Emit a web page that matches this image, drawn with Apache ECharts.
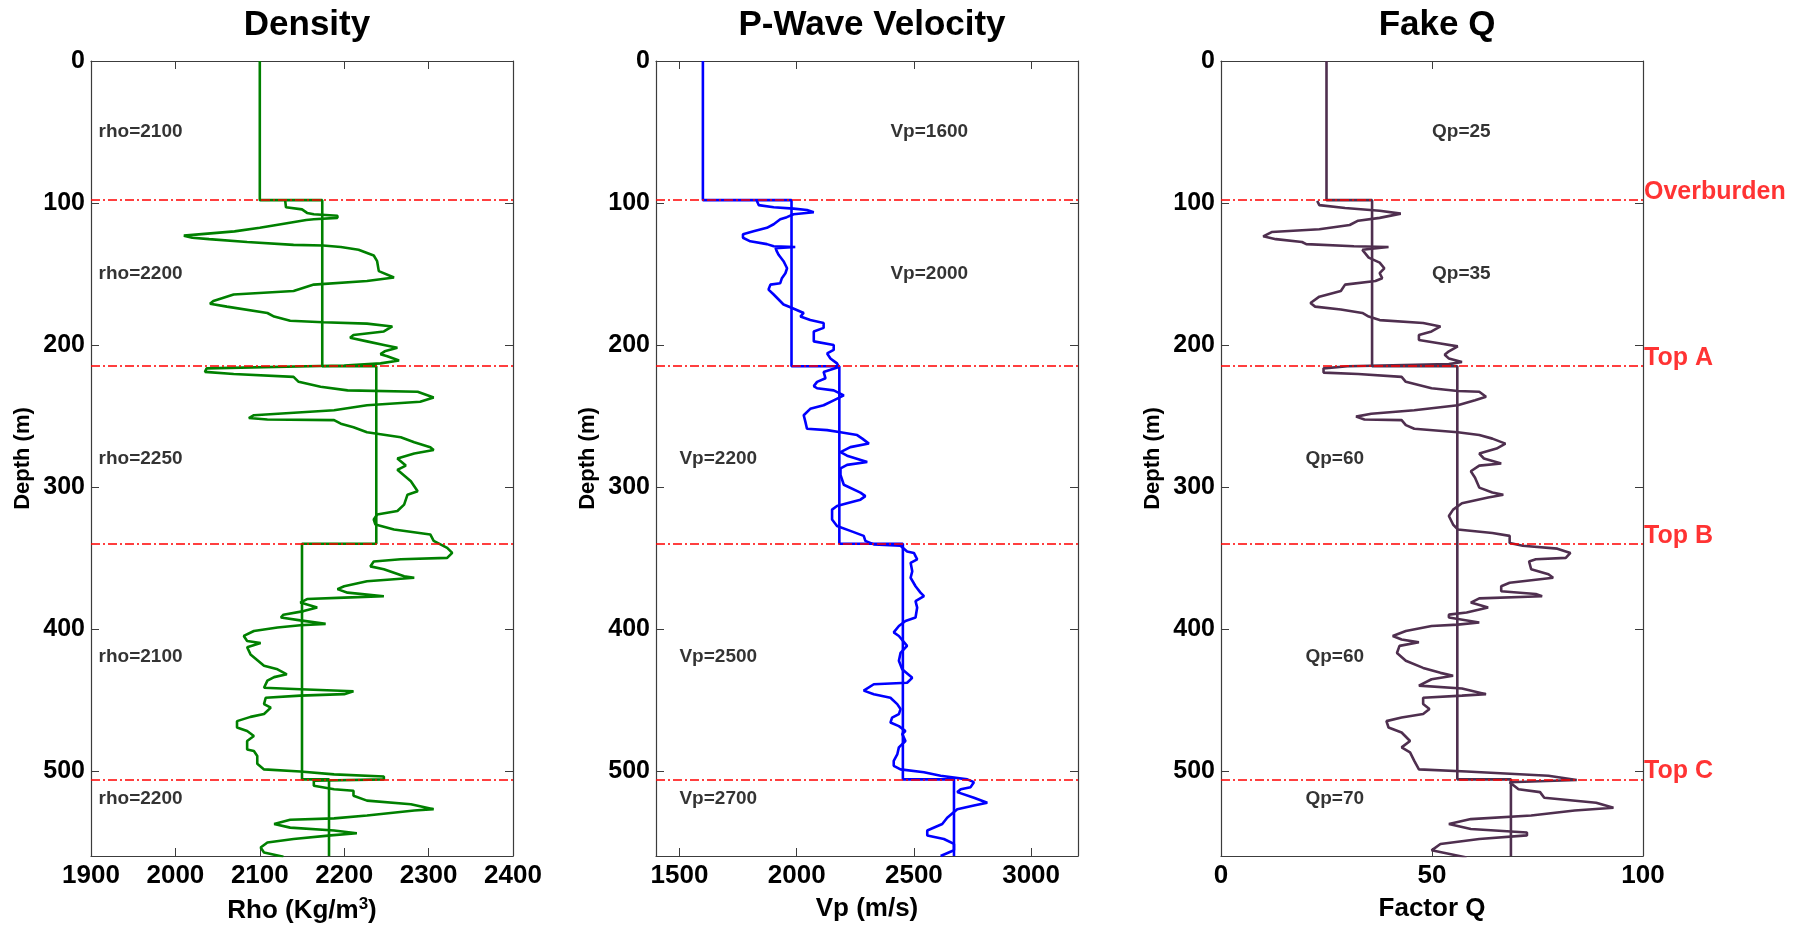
<!DOCTYPE html>
<html>
<head>
<meta charset="utf-8">
<script src="https://cdn.jsdelivr.net/npm/echarts@6/dist/echarts.min.js"></script>
<style>
  html, body { margin: 0; padding: 0; background: #ffffff; }
  #chart { width: 1797px; height: 931px; }
</style>
</head>
<body>
<div id="chart"></div>
<script>
// ---- depth axis and formation tops ----
const depthMax = 560;
const depthTicks = [0, 100, 200, 300, 400, 500];
const horizons = [98, 215, 340, 506];
const horizonNames = ['Overburden', 'Top A', 'Top B', 'Top C'];
const noteDepths = [50, 150, 280, 420, 520];

// ---- density ----
const rhoTicks = [1900, 2000, 2100, 2200, 2300, 2400];
const rhoLayers = [2100, 2174, 2238, 2150, 2182];
const rhoNotes = ['rho=2100', 'rho=2200', 'rho=2250', 'rho=2100', 'rho=2200'];
const rhoLog = [
  [2130,98],[2131,103],[2150,104.5],[2156,107],[2164,108],[2192,109],[2192,110.5],[2164,111.5],[2155,112],
  [2125,115],[2100,117.5],[2070,120],[2010,123],[2020,124.5],[2040,125.5],[2085,127.5],[2140,129.5],[2175,130],
  [2196,131],[2217,133],[2235,137],[2239,141],[2241,148],[2259,152.5],[2227,155],[2164,157.5],[2140,162],
  [2069,164.5],[2045,169],[2041,171],[2061,173],[2109,177.5],[2117,180],[2136,183],[2175,184],[2227,185],
  [2257,187],[2247,190.5],[2211,193],[2207,195],[2227,197.5],[2247,200],[2263,202],[2248,204.5],[2243,206.5],
  [2251,208],[2265,211],[2243,213],[2200,214.5],[2037,216.5],[2035,219],[2069,220.5],[2140,222.5],[2146,226],
  [2172,229.5],[2204,232],[2287,233],[2306,237],[2290,240],[2227,242.5],[2188,246],[2093,249.5],[2087,251.5],
  [2109,252.5],[2188,253],[2196,255.5],[2211,258],[2227,261.5],[2267,265],[2283,268.5],[2302,272],[2306,274],
  [2283,276.5],[2263,280],[2273,285],[2263,288],[2271,292],[2279,296],[2287,303],[2275,305.5],[2271,312.5],
  [2263,317],[2239,319.5],[2235,323],[2237,326.5],[2259,330],[2302,333.5],[2306,338],[2322,343],[2328,346.5],
  [2322,350],[2267,351],[2235,352.5],[2231,356],[2247,358],[2271,363],[2283,364],[2227,366.5],[2200,370],
  [2192,372],[2204,374.5],[2247,377],[2200,378],[2156,379],[2148,381.5],[2168,385],[2152,387.5],[2128,390],
  [2125,392],[2148,394],[2178,396.5],[2148,397.5],[2121,399],[2093,401.5],[2081,405],[2085,408.5],[2101,410],
  [2085,413],[2089,418],[2105,426],[2121,428.5],[2132,432],[2117,434],[2109,436.5],[2105,441.5],[2148,442.5],
  [2211,444],[2200,446],[2148,447],[2107,448.5],[2105,453],[2113,455.5],[2105,460],[2089,462],[2073,465],
  [2073,469.5],[2085,472],[2093,475.5],[2085,479],[2085,485],[2093,486],[2097,489.5],[2097,495],[2105,499],
  [2148,500.5],[2188,502.5],[2247,504],[2247,506],[2164,507],[2164,510.5],[2188,513],[2211,514],[2211,517.5],
  [2227,521],[2279,523.5],[2306,527],[2283,528],[2227,531.5],[2188,533.5],[2136,534.5],[2117,537.5],[2136,540],
  [2188,542],[2215,544],[2184,545.5],[2140,548],[2109,550.5],[2101,554],[2105,557.5],[2128,560.5]
];

// ---- P-wave velocity ----
const vpTicks = [1500, 2000, 2500, 3000];
const vpLayers = [1600, 1978, 2182, 2453, 2671];
const vpNotes = ['Vp=1600', 'Vp=2000', 'Vp=2200', 'Vp=2500', 'Vp=2700'];
const vpLog = [
  [1830,98.5],[1838,101.5],[1902,103],[1987,104],[2044,105],[2073,106.5],[1987,108],[1958,110],[1930,111.5],
  [1902,115],[1873,117.5],[1816,120],[1771,122],[1771,124.5],[1802,127],[1873,129],[1902,130.5],[1994,131],
  [1910,131.8],[1915,134],[1923,136.5],[1944,141],[1959,146],[1952,149.5],[1937,153],[1930,156.5],[1888,157.5],
  [1880,161],[1902,164.5],[1944,171.5],[1973,173.5],[2030,177.5],[2016,180],[2058,182.5],[2115,184.5],[2115,188],
  [2073,190.5],[2073,197.5],[2158,200],[2158,203.5],[2130,206],[2144,209.5],[2172,213],[2180,215.5],[2144,217.5],
  [2115,219],[2123,223.5],[2087,226],[2073,229],[2087,230.5],[2158,232],[2201,235.5],[2158,239],[2115,242.5],
  [2058,245],[2030,249.5],[2037,254],[2044,259],[2130,260],[2187,261.5],[2258,263.5],[2280,266],[2308,269.5],
  [2229,272],[2187,275.5],[2215,278],[2301,282.5],[2215,284.5],[2187,287],[2187,291.5],[2201,298.5],[2272,304],
  [2293,306.5],[2272,309],[2215,311.5],[2172,313.5],[2151,316],[2151,323],[2172,327.5],[2229,331],[2286,334.5],
  [2293,338],[2329,340.5],[2443,341.5],[2471,345.5],[2500,346.5],[2514,351],[2486,353.5],[2493,359.5],[2486,364],
  [2507,370],[2528,374.5],[2543,377],[2507,380.5],[2514,385],[2507,392],[2464,394.5],[2436,398],[2414,402.5],
  [2436,405],[2471,412],[2443,417],[2436,422.5],[2450,428.5],[2493,434.5],[2471,438],[2329,439],[2286,443.5],
  [2329,446],[2400,448.5],[2429,453],[2443,456.5],[2436,460],[2407,462.5],[2400,466],[2436,468.5],[2464,472],
  [2450,474],[2464,479],[2436,483.5],[2429,488.5],[2414,493],[2414,496.5],[2443,499],[2543,501],[2614,503.5],
  [2728,506],[2756,508],[2742,511.5],[2700,513],[2685,515],[2756,519],[2813,522.5],[2756,524.5],[2685,527],
  [2642,533],[2621,537.5],[2557,542],[2557,545.5],[2628,548],[2671,551.5],[2671,556],[2614,560]
];

// ---- quality factor ----
const qTicks = [0, 50, 100];
const qLayers = [25, 35.8, 56, 56, 68.7];
const qNotes = ['Qp=25', 'Qp=35', 'Qp=60', 'Qp=60', 'Qp=70'];
const qLog = [
  [22.8,98.5],[23.3,101.5],[29.4,103.5],[37.6,105.5],[42.6,107.5],[37.6,110.5],[32.5,112.5],[30.5,115.5],
  [23.3,118.5],[12,120.5],[10,123.5],[13,125.5],[19.2,127.5],[20.2,129],[31.5,130.5],[39.7,131],[33.5,133],
  [35,138.5],[37.6,142],[38.7,146],[37.6,149.5],[38.2,153],[36.6,155],[29.4,157.5],[28.4,162],[23.3,166],
  [21.2,170.5],[22.3,173],[28.4,175],[33.5,177.5],[35,180],[37.6,182.5],[47.9,184.5],[52,187],[49.9,190.5],
  [46.9,193],[46.9,196.5],[52,199],[56.1,201],[54,204.5],[53,207],[54,209.5],[57.1,212],[54,213.5],[30,215],
  [24.3,216.5],[24.3,219.5],[32.5,220.5],[42.8,222.5],[43.8,226],[49.9,230.5],[56.1,232.5],[61.2,233],
  [62.8,236.5],[60.2,239],[56.1,242.5],[45.8,246],[35.6,248.5],[32,250.5],[34,252.5],[42.8,253],[43.8,256.5],
  [45.8,259],[56.1,261.5],[61.2,263.5],[64.3,266],[67.4,269.5],[65.3,273],[61.2,276.5],[62.3,280],[66.4,283.5],
  [61.2,285],[59.2,289],[60.2,293.5],[61.2,300.5],[64.3,304],[66.9,305.5],[63.3,307.5],[57.1,311.5],[55,316],
  [54,320.5],[55,326.5],[56.1,330],[64.3,332.5],[68.4,334.5],[68.4,339.5],[71.5,341.5],[79.7,343.5],[82.8,346.5],
  [81.7,350],[74.6,351],[73,352.5],[73.5,358],[77.6,361.5],[78.7,364],[68.4,367.5],[66.4,370],[66.4,373.5],
  [74.6,375.5],[76.1,377],[61.2,378.5],[59.2,381.5],[63.3,385],[58.2,388.5],[54,390],[54,392],[61.2,395.5],
  [56.1,397],[49.9,398],[43.8,401.5],[40.7,405],[42.8,407.5],[46.9,409.5],[42.3,412],[41.7,417],[43.8,422.5],
  [47.9,427.5],[52,431],[55,433],[49.9,435.5],[46.9,440],[57.1,442],[62.8,446],[57.1,447],[47.9,448.5],
  [47.9,453],[49.4,456.5],[47.9,460],[42.8,462.5],[39.2,465],[39.7,469.5],[42.8,473],[44.8,479],[42.8,483.5],
  [44.8,487],[45.8,493],[46.9,499],[58.2,500.5],[77.6,503.5],[84.3,506.5],[68.4,508],[70.5,513],[75.6,515],
  [76.6,519],[88.9,522.5],[93,526],[83.8,528],[73.5,531.5],[59.2,534],[54,537.5],[59.2,541],[72.5,543.5],
  [72.5,545.5],[61.2,548],[52,551.5],[49.9,556],[58.2,561]
];

// ---- drawing ----
const FONT = "'Liberation Sans', Arial, sans-serif";
const AXIS_COLOR = '#3c3c3c';
const plainNumber = v => String(v);

// blocky layer model: constant value between consecutive tops
function layerSteps(layers) {
  const bounds = [0].concat(horizons, [depthMax]);
  const pts = [];
  layers.forEach((v, i) => { pts.push([v, bounds[i]], [v, bounds[i + 1]]); });
  return pts;
}

const panels = [
  { title: 'Density', name: 'Rho (Kg/m{sup|3})', min: 1900, max: 2400, ticks: rhoTicks,
    color: '#008000', log: rhoLog, layers: rhoLayers, notes: rhoNotes,
    noteX: [1909, 1909, 1909, 1909, 1909], grid: { left: 91, top: 61, width: 422, height: 795 } },
  { title: 'P-Wave Velocity', name: 'Vp (m/s)', min: 1400, max: 3200, ticks: vpTicks,
    color: '#0000ff', log: vpLog, layers: vpLayers, notes: vpNotes,
    noteX: [2400, 2400, 1500, 1500, 1500], grid: { left: 656, top: 61, width: 422, height: 795 } },
  { title: 'Fake Q', name: 'Factor Q', min: 0, max: 100, ticks: qTicks,
    color: '#4f2f4f', log: qLog, layers: qLayers, notes: qNotes,
    noteX: [50, 50, 20, 20, 20], grid: { left: 1221, top: 61, width: 422, height: 795 } }
];

const grids = [], xAxes = [], yAxes = [], series = [], titles = [];

panels.forEach((p, i) => {
  grids.push(Object.assign({ containLabel: false }, p.grid));
  titles.push({
    text: p.title, left: p.grid.left + p.grid.width / 2, top: 3, textAlign: 'center',
    textStyle: { fontFamily: FONT, fontSize: 35, fontWeight: 'bold', color: '#000' }
  });
  const tickStyle = { inside: true, length: 8, lineStyle: { color: AXIS_COLOR, width: 1 } };
  const lineStyle = { show: true, onZero: false, lineStyle: { color: AXIS_COLOR, width: 1.2 } };
  // bottom value axis with labels
  xAxes.push({
    type: 'value', gridIndex: i, position: 'bottom', min: p.min, max: p.max,
    axisLine: lineStyle,
    axisTick: Object.assign({ customValues: p.ticks }, tickStyle),
    axisLabel: { customValues: p.ticks, formatter: plainNumber, color: '#000', fontFamily: FONT,
      fontSize: 26, fontWeight: 'bold', margin: 7 },
    splitLine: { show: false },
    name: p.name, nameLocation: 'middle', nameGap: 40,
    nameTextStyle: { fontFamily: FONT, fontSize: 26, fontWeight: 'bold', color: '#000',
      rich: { sup: { fontFamily: FONT, fontSize: 17, fontWeight: 'bold', color: '#000', verticalAlign: 'top', padding: [0, 0, 12, 0] } } }
  });
  // mirrored top axis (ticks only)
  xAxes.push({
    type: 'value', gridIndex: i, position: 'top', min: p.min, max: p.max,
    axisLine: lineStyle,
    axisTick: Object.assign({ customValues: p.ticks }, tickStyle),
    axisLabel: { show: false }, splitLine: { show: false }
  });
  // depth axis on the left
  yAxes.push({
    type: 'value', gridIndex: i, position: 'left', inverse: true, min: 0, max: depthMax,
    axisLine: lineStyle,
    axisTick: Object.assign({ customValues: depthTicks }, tickStyle),
    axisLabel: { customValues: depthTicks, formatter: plainNumber, color: '#000', fontFamily: FONT,
      fontSize: 25, fontWeight: 'bold', margin: 6 },
    splitLine: { show: false },
    name: 'Depth (m)', nameLocation: 'middle', nameGap: 57, nameRotate: 90,
    nameTextStyle: { fontFamily: FONT, fontSize: 22, fontWeight: 'bold', color: '#000' }
  });
  // mirrored right axis (ticks only)
  yAxes.push({
    type: 'value', gridIndex: i, position: 'right', inverse: true, min: 0, max: depthMax,
    axisLine: lineStyle,
    axisTick: Object.assign({ customValues: depthTicks }, tickStyle),
    axisLabel: { show: false }, splitLine: { show: false }
  });

  const xi = i * 2, yi = i * 2;
  // measured log
  series.push({
    type: 'line', xAxisIndex: xi, yAxisIndex: yi, data: p.log,
    symbol: 'none', showSymbol: false, silent: true, z: 2,
    lineStyle: { color: p.color, width: 2.6 }
  });
  // blocky layer model
  series.push({
    type: 'line', xAxisIndex: xi, yAxisIndex: yi, data: layerSteps(p.layers),
    symbol: 'none', showSymbol: false, silent: true, z: 3,
    lineStyle: { color: p.color, width: 2.6 },
    markLine: {
      silent: true, symbol: 'none', animation: false,
      lineStyle: { color: '#ff0000', width: 1.6, type: [9, 3, 2, 3] },
      label: { show: false },
      data: horizons.map(h => ({ yAxis: h }))
    }
  });
  // layer annotations
  series.push({
    type: 'scatter', xAxisIndex: xi, yAxisIndex: yi, symbolSize: 0, silent: true, clip: false, z: 4,
    data: p.notes.map((t, k) => ({ name: t, value: [p.noteX[k], noteDepths[k]] })),
    label: { show: true, position: 'right', distance: 0, formatter: '{b}',
      fontFamily: FONT, fontSize: 19, fontWeight: 'bold', color: '#000' }
  });
});

// formation top names beside the last track
series.push({
  type: 'scatter', xAxisIndex: 4, yAxisIndex: 4, symbolSize: 0, silent: true, clip: false, z: 4,
  data: horizons.map((h, k) => ({ name: horizonNames[k], value: [100, h] })),
  label: { show: true, position: 'right', distance: 1, offset: [0, -8], formatter: '{b}',
    fontFamily: FONT, fontSize: 25, fontWeight: 'bold', color: '#ff0000' }
});

const chart = echarts.init(document.getElementById('chart'), null, { renderer: 'canvas' });
chart.setOption({
  animation: false,
  backgroundColor: '#ffffff',
  title: titles,
  grid: grids,
  xAxis: xAxes,
  yAxis: yAxes,
  series: series
});
</script>
</body>
</html>
